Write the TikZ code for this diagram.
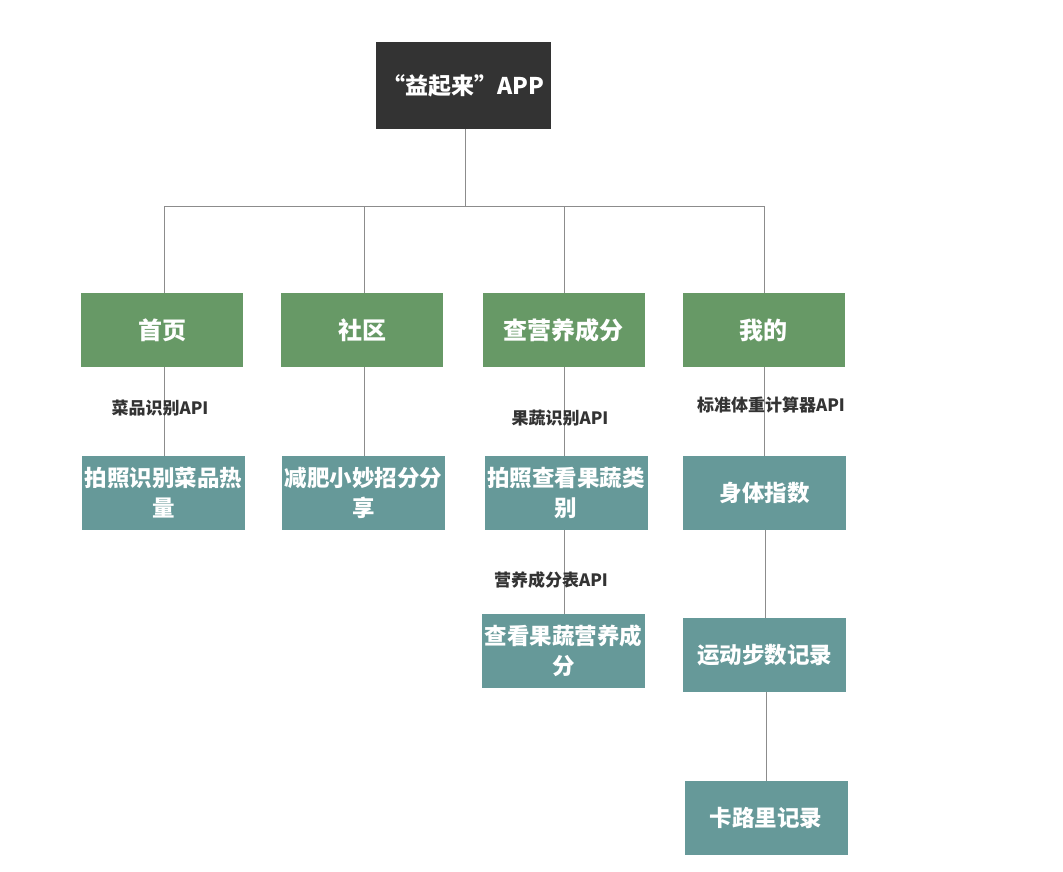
\documentclass[tikz,border=0pt]{standalone}
\usepackage{fontspec}
\setmainfont{Noto Sans CJK SC}
\usepackage{xcolor}
\definecolor{rootgray}{HTML}{333333}
\definecolor{leafgreen}{HTML}{679966}
\definecolor{leafteal}{HTML}{669999}
\definecolor{linegray}{HTML}{8C8C8C}
\begin{document}
\begin{tikzpicture}[x=1pt,y=-1pt,
    rootbox/.style={fill=rootgray,text=white,font=\fontsize{23}{26}\selectfont\bfseries,
        minimum width=175pt,minimum height=87pt,inner sep=0pt},
    menubox/.style={fill=leafgreen,text=white,font=\fontsize{24}{28}\selectfont\bfseries,
        minimum width=162pt,minimum height=74pt,inner sep=0pt},
    funcbox/.style={fill=leafteal,text=white,font=\fontsize{22.5}{30}\selectfont\bfseries,
        minimum width=163pt,minimum height=74pt,inner sep=0pt,align=center},
    apilabel/.style={text=rootgray,font=\fontsize{17}{19}\selectfont\bfseries,inner sep=0pt},
    link/.style={draw=linegray,line width=1pt}]

        % Canvas
        \useasboundingbox[fill=white] (0,0) rectangle (1063,872);

        % Draw the app root
        \node[rootbox] (app) at (463.5,85.5) {“益起来”APP};

        % Draw the four menu pages
        \node[menubox] (home) at (162,330) {首页};
        \node[menubox] (community) at (362,330) {社区};
        \node[menubox] (nutrition) at (563.5,330) {查营养成分};
        \node[menubox] (mine) at (763.5,330) {我的};

        % Draw the functions
        \node[funcbox] (dishphoto) at (163.5,493) {拍照识别菜品热\\量};
        \node[funcbox] (tips) at (363.5,493) {减肥小妙招分分\\享};
        \node[funcbox] (fruitphoto) at (566,493) {拍照查看果蔬类\\别};
        \node[funcbox] (fruitinfo) at (563.5,651) {查看果蔬营养成\\分};
        \node[funcbox] (bodyindex) at (764.5,493) {身体指数};
        \node[funcbox] (steps) at (764.5,655) {运动步数记录};
        \node[funcbox] (calorie) at (766,818) {卡路里记录};

        % Bus coordinates
        \coordinate (hub) at (465,206);
        \coordinate (bushome) at (164,206);
        \coordinate (buscommunity) at (364,206);
        \coordinate (busnutrition) at (564,206);
        \coordinate (busmine) at (764,206);

        % Draw the tree lines
        \draw[link] (app.south -| hub) -- (hub);
        \draw[link] (bushome) -- (busmine);
        \draw[link] (bushome) -- (bushome |- home.north);
        \draw[link] (buscommunity) -- (buscommunity |- community.north);
        \draw[link] (busnutrition) -- (busnutrition |- nutrition.north);
        \draw[link] (busmine) -- (busmine |- mine.north);
        \draw[link] (bushome |- home.south) -- (bushome |- dishphoto.north);
        \draw[link] (buscommunity |- community.south) -- (buscommunity |- tips.north);
        \draw[link] (busnutrition |- nutrition.south) -- (busnutrition |- fruitphoto.north);
        \draw[link] (busnutrition |- fruitphoto.south) -- (busnutrition |- fruitinfo.north);
        \draw[link] (mine.south -| busmine) -- (bodyindex.north -| busmine);
        \draw[link] (bodyindex.south -| 765,0) -- (steps.north -| 765,0);
        \draw[link] (steps.south -| 766,0) -- (calorie.north -| 766,0);

        % Draw the API labels
        \node[apilabel] (dishapi) at (160,408) {菜品识别API};
        \node[apilabel] (fruitapi) at (560,418) {果蔬识别API};
        \node[apilabel] (tableapi) at (551,580) {营养成分表API};
        \node[apilabel] (weightapi) at (771,405) {标准体重计算器API};

    \end{tikzpicture}
\end{document}
